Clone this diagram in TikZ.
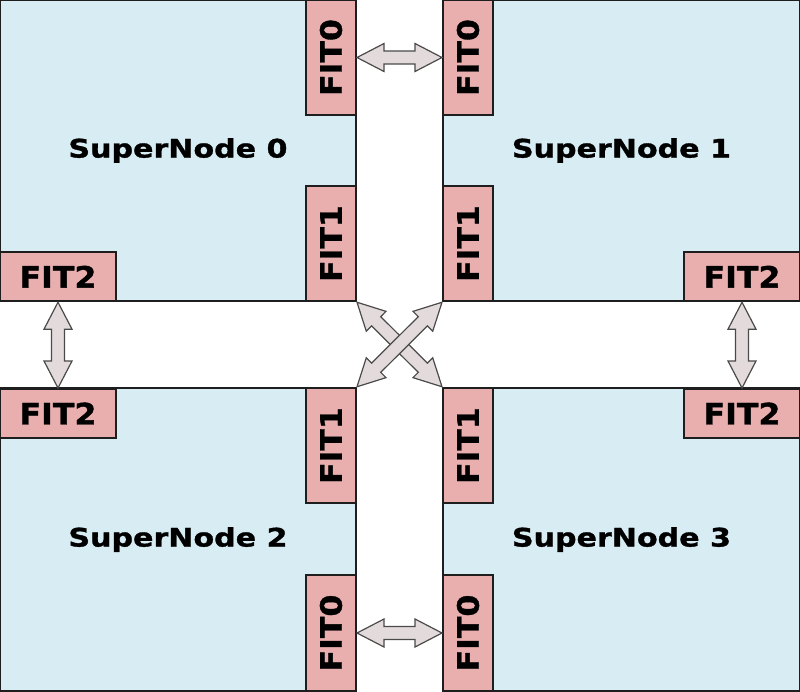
\documentclass[tikz,border=0pt]{standalone}
\usepackage{fontspec}
\usetikzlibrary{calc}
\newfontfamily\snfont[FakeStretch=1.18,FakeBold=1.2]{DejaVu Sans}
\newfontfamily\fitfont[FakeStretch=1.07,FakeBold=1.2]{DejaVu Sans}
\definecolor{snfill}{HTML}{D7EDF3}
\definecolor{fitfill}{HTML}{E9AFAF}
\definecolor{arrfill}{HTML}{E3DBDB}
\definecolor{arrline}{HTML}{4A4A4A}
\definecolor{boxline}{HTML}{1E1E1E}
\tikzset{
  snbox/.style={draw=boxline, fill=snfill, line width=2pt, inner sep=0pt,
    font=\snfont\bfseries\fontsize{25.5}{30}\selectfont},
  fitv/.style={draw=boxline, fill=fitfill, line width=2pt, inner sep=0pt,
    minimum width=50, minimum height=115.5},
  fith/.style={draw=boxline, fill=fitfill, line width=2pt, inner sep=0pt,
    minimum width=116, minimum height=49,
    font=\fitfont\bfseries\fontsize{29.5}{30}\selectfont},
  fittext/.style={rotate=90, inner sep=0pt,
    font=\fitfont\bfseries\fontsize{29.5}{30}\selectfont},
  dblarr/.style={draw=arrline, fill=arrfill, line width=1.2pt, line join=miter}
}
% double block arrow between two points
\newcommand{\blockarrow}[3]{%
  \coordinate (#3h1) at ($(#1)!27pt!(#2)$);
  \coordinate (#3h2) at ($(#2)!27pt!(#1)$);
  \path[dblarr] (#1)
    -- ($(#3h1)!14pt!90:(#2)$) -- ($(#3h1)!6.5pt!90:(#2)$)
    -- ($(#3h2)!6.5pt!-90:(#1)$) -- ($(#3h2)!14pt!-90:(#1)$)
    -- (#2)
    -- ($(#3h2)!14pt!90:(#1)$) -- ($(#3h2)!6.5pt!90:(#1)$)
    -- ($(#3h1)!6.5pt!-90:(#2)$) -- ($(#3h1)!14pt!-90:(#2)$)
    -- cycle;%
}
\begin{document}
\begin{tikzpicture}[x=1pt,y=-1pt]
\useasboundingbox (0,0) rectangle (800,691);
% SuperNodes
\node[snbox, minimum width=356, minimum height=301] (sn0) at (178,150.5) {SuperNode 0};
\node[snbox, minimum width=357, minimum height=301] (sn1) at (621.5,150.5) {SuperNode 1};
\node[snbox, minimum width=356, minimum height=303] (sn2) at (178,539.5) {SuperNode 2};
\node[snbox, minimum width=357, minimum height=303] (sn3) at (621.5,539.5) {SuperNode 3};
% FIT boxes
\node[fitv] (f00) at (331,57.5) {};
\node[fittext] at (f00) {FIT0};
\node[fitv] (f01) at (331,243.5) {};
\node[fittext] at (f01) {FIT1};
\node[fith] (f02) at (58,276.7) {FIT2};
\node[fitv] (f10) at (468,57.5) {};
\node[fittext] at (f10) {FIT0};
\node[fitv] (f11) at (468,243.5) {};
\node[fittext] at (f11) {FIT1};
\node[fith] (f12) at (742,276.7) {FIT2};
\node[fitv] (f21) at (331,445.5) {};
\node[fittext] at (f21) {FIT1};
\node[fitv] (f20) at (331,633) {};
\node[fittext] at (f20) {FIT0};
\node[fith] (f22) at (58,413.5) {FIT2};
\node[fitv] (f31) at (468,445.5) {};
\node[fittext] at (f31) {FIT1};
\node[fitv] (f30) at (468,633) {};
\node[fittext] at (f30) {FIT0};
\node[fith] (f32) at (742,413.5) {FIT2};
% arrows
\blockarrow{f00.east}{f10.west}{a1}
\blockarrow{f20.east}{f30.west}{a2}
\blockarrow{f02.south}{f22.north}{a3}
\blockarrow{f12.south}{f32.north}{a4}
\blockarrow{f01.south east}{f31.north west}{a5}
\blockarrow{f11.south west}{f21.north east}{a6}
\end{tikzpicture}
\end{document}
